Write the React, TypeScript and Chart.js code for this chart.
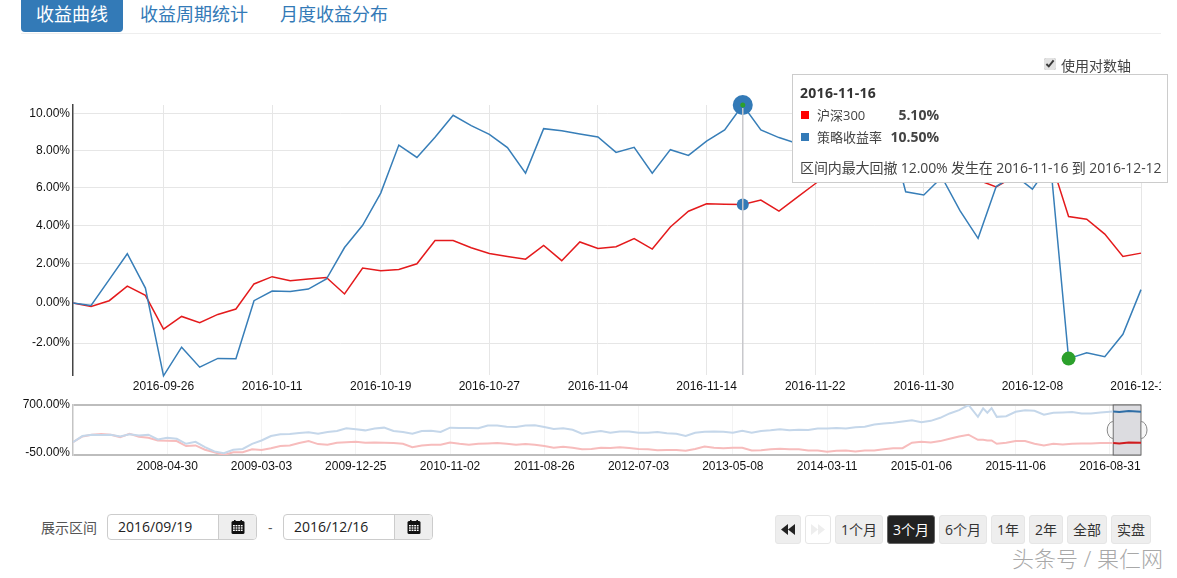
import { useEffect, useRef } from 'react'
import { Chart, registerables } from 'chart.js'

Chart.register(...registerables)

const FONT_CJK = '"Open Sans", "Noto Sans CJK SC", sans-serif'
const FONT_AXIS = '"Liberation Sans", Arial, sans-serif'

// trading days shown in the main chart
const dates = [
  '2016-09-19', '2016-09-20', '2016-09-21', '2016-09-22', '2016-09-23', '2016-09-26',
  '2016-09-27', '2016-09-28', '2016-09-29', '2016-09-30', '2016-10-10', '2016-10-11',
  '2016-10-12', '2016-10-13', '2016-10-14', '2016-10-17', '2016-10-18', '2016-10-19',
  '2016-10-20', '2016-10-21', '2016-10-24', '2016-10-25', '2016-10-26', '2016-10-27',
  '2016-10-28', '2016-10-31', '2016-11-01', '2016-11-02', '2016-11-03', '2016-11-04',
  '2016-11-07', '2016-11-08', '2016-11-09', '2016-11-10', '2016-11-11', '2016-11-14',
  '2016-11-15', '2016-11-16', '2016-11-17', '2016-11-18', '2016-11-21', '2016-11-22',
  '2016-11-23', '2016-11-24', '2016-11-25', '2016-11-28', '2016-11-29', '2016-11-30',
  '2016-12-01', '2016-12-02', '2016-12-05', '2016-12-06', '2016-12-07', '2016-12-08',
  '2016-12-09', '2016-12-12', '2016-12-13', '2016-12-14', '2016-12-15', '2016-12-16',
]

const strategy = [
  0, -0.12, 1.19, 2.52, 0.76, -3.6, -2.2, -3.18, -2.75, -2.77,
  0.12, 0.61, 0.58, 0.71, 1.22, 2.84, 4.0, 5.7, 8.29, 7.62,
  8.72, 9.93, 9.36, 8.88, 8.15, 6.77, 9.19, 9.08, 8.9, 8.73,
  7.89, 8.17, 6.77, 8.04, 7.73, 8.51, 9.12, 10.5, 9.12, 8.7,
  8.38, 8.6, 9.0, 8.7, 9.2, 9.5, 5.77, 5.6, 6.55, 4.77,
  3.32, 6.05, 6.68, 5.91, 7.3, -2.76, -2.47, -2.67, -1.56, 0.68,
]

const benchmark = [
  0, -0.17, 0.12, 0.86, 0.39, -1.3, -0.67, -0.98, -0.57, -0.3,
  0.97, 1.34, 1.13, 1.22, 1.3, 0.46, 1.78, 1.64, 1.71, 2.0,
  3.2, 3.2, 2.83, 2.53, 2.38, 2.24, 2.95, 2.16, 3.13, 2.79,
  2.88, 3.31, 2.76, 3.91, 4.74, 5.13, 5.11, 5.1, 5.33, 4.74,
  5.47, 6.2, 6.9, 7.2, 7.0, 7.3, 7.1, 6.9, 6.9, 7.0,
  6.4, 6.03, 6.6, 6.8, 7.5, 4.46, 4.32, 3.54, 2.38, 2.55,
]

const dateTickIndexes = [5, 11, 17, 23, 29, 35, 41, 47, 53, 59]
const returnTicks = [-2, 0, 2, 4, 6, 8, 10]
const returnMin = -3.56
const returnMax = 10.5
const peakIndex = 37
const troughIndex = 55

// full history, x is the trading day counted from the start
const overviewDays = [
  0, 20, 40, 60, 80, 100, 120, 140, 160, 180, 200, 220, 240, 260, 280, 300, 320, 340, 360, 380,
  400, 420, 440, 460, 480, 500, 520, 540, 560, 580, 600, 620, 640, 660, 680, 700, 720, 740, 760,
  780, 800, 820, 840, 860, 880, 900, 920, 940, 960, 980, 1000, 1020, 1040, 1060, 1080, 1100,
  1120, 1140, 1160, 1180, 1200, 1220, 1240, 1260, 1280, 1300, 1320, 1340, 1360, 1380, 1400,
  1420, 1440, 1460, 1480, 1500, 1520,
  1540, 1560, 1580, 1600, 1620, 1640, 1660, 1680, 1700, 1720, 1740, 1760, 1780, 1800, 1820,
  1840, 1860, 1880, 1900, 1920, 1931, 1940, 1949, 1960, 1980, 2000, 2020, 2040, 2060, 2080,
  2100, 2120, 2140, 2160, 2180, 2207, 2220, 2240, 2266,
]
const overviewStrategy = [
  2, 43, 54, 51, 54, 40, 57, 48, 54, 19, 30, 23, -7, 4, -23, -39, -45, -33, -30, -7,
  12, 43, 57, 60, 69, 76, 63, 79, 89, 120, 109, 96, 116, 128, 89, 79, 63, 89, 92,
  79, 128, 124, 124, 120, 156, 156, 141, 137, 156, 160, 137, 112, 120, 103, 63, 76,
  89, 72, 85, 85, 72, 72, 79, 66, 63, 43, 72, 82, 85, 82, 72,
  92, 72, 89, 96, 109, 96,
  103, 99, 116, 116, 124, 116, 132, 141, 172, 186, 200, 220, 244, 208, 232,
  293, 401, 504, 700, 315, 563, 420, 575, 315, 330, 450, 495, 480, 365, 420,
  430, 440, 400, 400, 430, 460, 440, 470, 450,
]
const overviewBenchmark = [
  2, 40, 54, 60, 54, 35, 63, 37, 30, 12, 10, 8, -18, -15, -33, -42, -50, -42, -42, -31,
  -34, -27, -18, -15, -3, 8, -8.5, -12, -1, 2, 4, -1, 0, -1, -3, -7, -23, -15, -12,
  -12, 0, -7, -12, -7, -5, -3, -7, -12, -8, -12, -18, -25, -21, -25, -31, -30,
  -25, -26, -23, -26, -30, -31, -35, -34, -34, -37, -30, -20, -25, -27, -25,
  -25, -36, -35, -31, -29, -31,
  -31, -36, -36, -40, -37, -36, -39, -36, -36, -31, -27, -27, -1, 4, 0,
  8, 23, 40, 54, 16, 16, 12, 12, -7, -1, 8, 8, -7, -15, -7,
  -10, -7, -5, -5, -3, -3, -5, 0, -1,
]
const overviewTickDays = [200, 400, 600, 800, 1000, 1200, 1400, 1600, 1800, 2000, 2200]
const overviewTickLabels = [
  '2008-04-30', '2009-03-03', '2009-12-25', '2010-11-02', '2011-08-26', '2012-07-03',
  '2013-05-08', '2014-03-11', '2015-01-06', '2015-11-06', '2016-08-31',
]
const overviewLastDay = 2266
const windowStartDay = 2207

const periodButtons = ['1个月', '3个月', '6个月', '1年', '2年', '全部', '实盘']

// returns are plotted as 100 + r on a log scale
const toLog = (r: number) => 100 + r
const fmtPct = (v: number | string) => `${(Number(v) - 100).toFixed(2)}%`

const crosshair = {
  id: 'crosshair',
  afterDatasetsDraw(chart: any) {
    const x = chart.scales.x.getPixelForValue(peakIndex)
    const { top, bottom } = chart.chartArea
    const { ctx } = chart
    ctx.save()
    ctx.strokeStyle = '#c8c8cc'
    ctx.lineWidth = 1.5
    ctx.beginPath()
    ctx.moveTo(x, top + 3)
    ctx.lineTo(x, bottom)
    ctx.stroke()
    ctx.restore()
  },
}

const rangeWindow = {
  id: 'rangeWindow',
  beforeDatasetsDraw(chart: any) {
    const x0 = chart.scales.x.getPixelForValue(windowStartDay)
    const x1 = chart.scales.x.getPixelForValue(overviewLastDay)
    const { top, bottom } = chart.chartArea
    const mid = (top + bottom) / 2
    const { ctx } = chart
    ctx.save()
    ctx.fillStyle = '#dcdce0'
    ctx.fillRect(x0, top, x1 - x0, bottom - top)
    ctx.strokeStyle = '#666'
    ctx.lineWidth = 1
    ctx.strokeRect(x0, top, x1 - x0, bottom - top)
    ctx.fillStyle = '#f7f7f7'
    ctx.strokeStyle = '#888'
    ctx.beginPath()
    ctx.ellipse(x0, mid, 6, 8.5, 0, Math.PI / 2, (Math.PI * 3) / 2)
    ctx.closePath()
    ctx.fill()
    ctx.stroke()
    ctx.beginPath()
    ctx.ellipse(x1, mid, 6, 8.5, 0, -Math.PI / 2, Math.PI / 2)
    ctx.closePath()
    ctx.fill()
    ctx.stroke()
    ctx.restore()
  },
}

function StrategyChart() {
  const canvasRef = useRef<HTMLCanvasElement>(null)

  useEffect(() => {
    if (!canvasRef.current) return
    const chart = new Chart(canvasRef.current, {
      type: 'line',
      data: {
        labels: dates,
        datasets: [
          {
            // small green dots sit on top of the hover markers
            data: strategy.map((v, i) => (i === peakIndex ? toLog(v) : null)),
            showLine: false,
            pointRadius: 2.5,
            pointBackgroundColor: '#2ca02c',
            pointBorderWidth: 0,
            clip: false,
          },
          {
            data: strategy.map((v, i) => (i === troughIndex ? toLog(v) : null)),
            showLine: false,
            pointRadius: 7,
            pointBackgroundColor: '#2ca02c',
            pointBorderWidth: 0,
            clip: false,
          },
          {
            data: strategy.map(toLog),
            borderColor: '#377eb8',
            borderWidth: 1.5,
            tension: 0,
            pointRadius: (ctx: any) => (ctx.dataIndex === peakIndex ? 10 : 0),
            pointBackgroundColor: '#337ab7',
            pointBorderWidth: 0,
            clip: false,
          },
          {
            data: benchmark.map(toLog),
            borderColor: '#e41a1c',
            borderWidth: 1.5,
            tension: 0,
            pointRadius: (ctx: any) => (ctx.dataIndex === peakIndex ? 6 : 0),
            pointBackgroundColor: '#337ab7',
            pointBorderWidth: 0,
            clip: false,
          },
        ],
      },
      options: {
        animation: false,
        responsive: false,
        events: [],
        layout: { padding: { top: 105, right: 20, bottom: 0, left: 0 } },
        plugins: { legend: { display: false }, tooltip: { enabled: false } },
        scales: {
          x: {
            type: 'category',
            offset: false,
            grid: { color: '#e6e6e6', drawTicks: false },
            border: { display: false },
            ticks: {
              autoSkip: false,
              maxRotation: 0,
              padding: 4,
              color: '#111',
              font: { family: FONT_AXIS, size: 12 },
            },
            afterBuildTicks: (scale: any) => {
              scale.ticks = dateTickIndexes.map((value) => ({ value }))
            },
            afterFit: (scale: any) => {
              scale.height = 25
              scale.paddingLeft = 0
              scale.paddingRight = 0
            },
          },
          y: {
            type: 'logarithmic',
            bounds: 'data',
            min: toLog(returnMin),
            max: toLog(returnMax),
            grid: { color: '#e6e6e6', drawTicks: false },
            border: { display: true, color: '#444', width: 1.5 },
            ticks: {
              padding: 3,
              color: '#111',
              font: { family: FONT_AXIS, size: 12 },
              callback: fmtPct,
            },
            afterBuildTicks: (scale: any) => {
              scale.ticks = returnTicks.map((r) => ({ value: toLog(r) }))
            },
            afterFit: (scale: any) => {
              scale.width = 73
            },
          },
        },
      },
      plugins: [crosshair],
    } as any)
    return () => chart.destroy()
  }, [])

  return (
    <canvas
      ref={canvasRef}
      width={1161}
      height={400}
      style={{ position: 'absolute', left: 0, top: 0 }}
    />
  )
}

function OverviewChart() {
  const canvasRef = useRef<HTMLCanvasElement>(null)

  useEffect(() => {
    if (!canvasRef.current) return
    const lineColor = (light: string, dark: string) => (ctx: any) =>
      ctx.p0.parsed.x >= windowStartDay ? dark : light
    const chart = new Chart(canvasRef.current, {
      type: 'line',
      data: {
        datasets: [
          {
            data: overviewDays.map((x, i) => ({ x, y: toLog(overviewStrategy[i]) })),
            borderWidth: 2,
            borderColor: '#c5d7ea',
            segment: { borderColor: lineColor('#c5d7ea', '#2f6ea6') },
            pointRadius: 0,
            tension: 0,
          },
          {
            data: overviewDays.map((x, i) => ({ x, y: toLog(overviewBenchmark[i]) })),
            borderWidth: 2,
            borderColor: '#f7bcbc',
            segment: { borderColor: lineColor('#f7bcbc', '#d01c1f') },
            pointRadius: 0,
            tension: 0,
          },
        ],
      },
      options: {
        animation: false,
        responsive: false,
        events: [],
        layout: { padding: { top: 10, right: 20, bottom: 0, left: 0 } },
        plugins: { legend: { display: false }, tooltip: { enabled: false } },
        scales: {
          x: {
            type: 'linear',
            min: 0,
            max: overviewLastDay,
            grid: { color: '#f3f3f3', drawTicks: false },
            border: { display: false },
            ticks: {
              autoSkip: false,
              maxRotation: 0,
              padding: 4,
              color: '#111',
              font: { family: FONT_AXIS, size: 12 },
              callback: (_v: number, i: number) => overviewTickLabels[i],
            },
            afterBuildTicks: (scale: any) => {
              scale.ticks = overviewTickDays.map((value) => ({ value }))
            },
            afterFit: (scale: any) => {
              scale.height = 25
              scale.paddingLeft = 0
              scale.paddingRight = 0
            },
          },
          y: {
            type: 'logarithmic',
            bounds: 'data',
            min: toLog(-50),
            max: toLog(700),
            grid: { color: '#bdbdbd', lineWidth: 2, drawTicks: false },
            border: { display: true, color: '#c4c4c4', width: 1.5 },
            ticks: {
              padding: 3,
              color: '#111',
              // the two-line label lifts the bottom tick a little above the edge
              font: { family: FONT_AXIS, size: 12, lineHeight: '4px' },
              callback: (v: number) => (v === toLog(-50) ? [fmtPct(v), ''] : fmtPct(v)),
            },
            afterBuildTicks: (scale: any) => {
              scale.ticks = [{ value: toLog(-50) }, { value: toLog(700) }]
            },
            afterFit: (scale: any) => {
              scale.width = 73
            },
          },
        },
      },
      plugins: [rangeWindow],
    } as any)
    return () => chart.destroy()
  }, [])

  return (
    <canvas
      ref={canvasRef}
      width={1161}
      height={85}
      style={{ position: 'absolute', left: 0, top: 395 }}
    />
  )
}

function Abs({ x, y, w, h, style, children }: any) {
  return (
    <div style={{ position: 'absolute', left: x, top: y, width: w, height: h, ...style }}>
      {children}
    </div>
  )
}

function CalendarIcon() {
  return (
    <svg width="14" height="14" viewBox="0 0 14 14">
      <rect x="0.5" y="1" width="13" height="13" rx="1.5" fill="#111" />
      <rect x="3" y="0" width="1.6" height="3" fill="#111" />
      <rect x="9.4" y="0" width="1.6" height="3" fill="#111" />
      {[5, 7.3, 9.6].map((y) =>
        [2, 4.6, 7.2, 9.8].map((x) => (
          <rect key={`${x}-${y}`} x={x} y={y} width="1.8" height="1.4" fill="#fff" />
        )),
      )}
    </svg>
  )
}

function DateInput({ x, value }: { x: number; value: string }) {
  return (
    <Abs
      x={x}
      y={514}
      w={150}
      h={26}
      style={{
        display: 'flex',
        boxSizing: 'border-box',
        border: '1px solid #ccc',
        borderRadius: 4,
        overflow: 'hidden',
      }}
    >
      <div
        style={{
          width: 110,
          boxSizing: 'border-box',
          lineHeight: '24px',
          paddingLeft: 10,
          fontSize: 14,
          color: '#222',
        }}
      >
        {value}
      </div>
      <div
        style={{
          flex: 1,
          background: '#eee',
          borderLeft: '1px solid #ccc',
          display: 'flex',
          alignItems: 'center',
          justifyContent: 'center',
        }}
      >
        <CalendarIcon />
      </div>
    </Abs>
  )
}

function SkipIcon({ color, flip }: { color: string; flip?: boolean }) {
  return (
    <svg
      width="14"
      height="11"
      viewBox="0 0 14 11"
      style={{ display: 'block', transform: flip ? 'scaleX(-1)' : undefined }}
    >
      <path d="M7 0 L7 11 L0 5.5 Z M14 0 L14 11 L7 5.5 Z" fill={color} />
    </svg>
  )
}

const buttonBoxes = [
  [835, 48],
  [887, 48],
  [939, 48],
  [991, 34],
  [1029, 34],
  [1067, 40],
  [1111, 40],
]

function Controls() {
  const btn = {
    boxSizing: 'border-box',
    background: '#eee',
    border: '1px solid #e6e6e6',
    borderRadius: 3,
    textAlign: 'center',
    fontSize: 14,
    lineHeight: '27px',
    color: '#333',
  }
  const iconBtn = { ...btn, display: 'flex', alignItems: 'center', justifyContent: 'center' }
  return (
    <>
      <Abs x={41} y={518} style={{ fontSize: 14, color: '#555', lineHeight: '20px' }}>
        展示区间
      </Abs>
      <DateInput x={107} value="2016/09/19" />
      <Abs x={268} y={518} style={{ fontSize: 14, color: '#555', lineHeight: '20px' }}>
        -
      </Abs>
      <DateInput x={283} value="2016/12/16" />

      <Abs x={775} y={515} w={26} h={29} style={iconBtn}>
        <SkipIcon color="#222" />
      </Abs>
      <Abs x={805} y={515} w={26} h={29} style={{ ...iconBtn, background: '#fff' }}>
        <SkipIcon color="#eee" flip />
      </Abs>
      {periodButtons.map((label, i) => (
        <Abs
          key={label}
          x={buttonBoxes[i][0]}
          y={515}
          w={buttonBoxes[i][1]}
          h={29}
          style={label === '3个月' ? { ...btn, background: '#222', borderColor: '#666', color: '#fff' } : btn}
        >
          {label}
        </Abs>
      ))}
    </>
  )
}

function InfoBox() {
  const legendRow = { position: 'absolute', fontSize: 13, color: '#444', lineHeight: '18px', whiteSpace: 'nowrap' } as const
  const valueCell = { ...legendRow, left: 86, width: 60, textAlign: 'right', fontWeight: 700, fontSize: 14 } as const
  return (
    <Abs
      x={792}
      y={74}
      w={376}
      h={109}
      style={{ boxSizing: 'border-box', background: '#fff', border: '1px solid #ccc', color: '#333' }}
    >
      <div style={{ position: 'absolute', left: 7, top: 8, fontSize: 14, fontWeight: 700, letterSpacing: 0.3 }}>2016-11-16</div>
      <div style={{ position: 'absolute', left: 8, top: 36, width: 8, height: 8, background: '#f00' }} />
      <div style={{ ...legendRow, left: 24, top: 31 }}>沪深300</div>
      <div style={{ ...valueCell, top: 31 }}>5.10%</div>
      <div style={{ position: 'absolute', left: 8, top: 58, width: 8, height: 8, background: '#337ab7' }} />
      <div style={{ ...legendRow, left: 24, top: 53 }}>策略收益率</div>
      <div style={{ ...valueCell, top: 53 }}>10.50%</div>
      <div style={{ ...legendRow, left: 7, top: 84, fontSize: 14, letterSpacing: -0.1 }}>
        区间内最大回撤 12.00% 发生在 2016-11-16 到 2016-12-12
      </div>
    </Abs>
  )
}

export default function App() {
  return (
    <div
      style={{
        position: 'fixed',
        left: 0,
        top: 0,
        width: 1177,
        height: 578,
        overflow: 'hidden',
        background: '#fff',
        fontFamily: FONT_CJK,
      }}
    >
      <Abs
        x={21}
        y={0}
        w={102}
        h={32}
        style={{
          background: '#337ab7',
          borderRadius: '0 0 4px 4px',
          color: '#fff',
          fontSize: 18,
          lineHeight: '28px',
          textAlign: 'center',
        }}
      >
        收益曲线
      </Abs>
      <Abs x={140} y={0} style={{ color: '#337ab7', fontSize: 18, lineHeight: '28px' }}>
        收益周期统计
      </Abs>
      <Abs x={280} y={0} style={{ color: '#337ab7', fontSize: 18, lineHeight: '28px' }}>
        月度收益分布
      </Abs>
      <Abs x={21} y={33} w={1140} h={1} style={{ background: '#eee' }} />

      <StrategyChart />
      <OverviewChart />

      <input
        type="checkbox"
        checked
        readOnly
        style={{ position: 'absolute', left: 1044, top: 58, width: 12, height: 12, margin: 0, accentColor: '#e2e2e2' }}
      />
      <Abs x={1061} y={56} style={{ fontSize: 14, color: '#444', lineHeight: '20px', whiteSpace: 'nowrap' }}>
        使用对数轴
      </Abs>

      <InfoBox />
      <Controls />

      <Abs x={1012} y={543} style={{ fontSize: 22, color: '#a8a8a8', lineHeight: '30px', fontWeight: 300, whiteSpace: 'nowrap' }}>
        头条号 / 果仁网
      </Abs>
    </div>
  )
}
